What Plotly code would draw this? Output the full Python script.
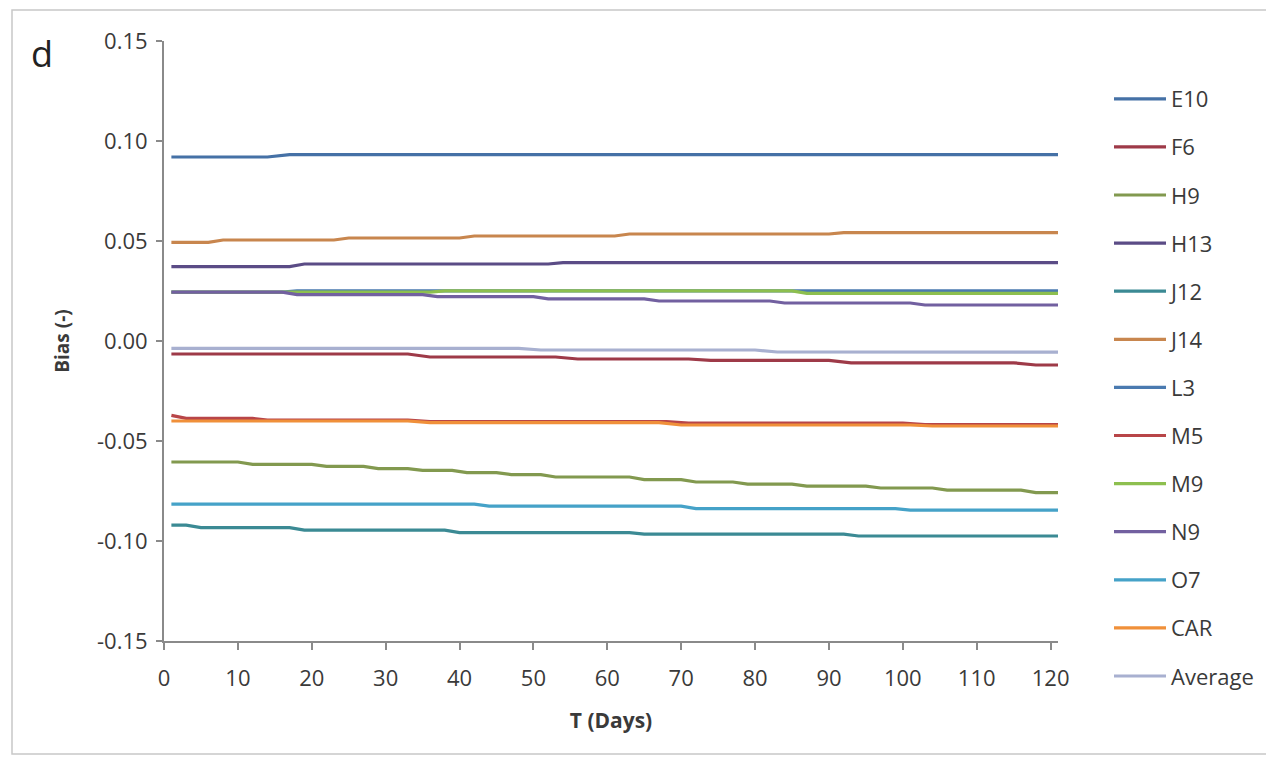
import plotly.graph_objects as go

# ---- data (vertices) ----
series_names = ["E10", "F6", "H9", "H13", "J12", "J14", "L3", "M5", "M9", "N9", "O7", "CAR", "Average"]

E10_days = [1, 14, 17, 121]
E10_vals = [0.0920, 0.0920, 0.0932, 0.0932]

F6_days = [1, 33, 36, 53, 56, 71, 74, 90, 93, 115, 118, 121]
F6_vals = [-0.0065, -0.0065, -0.0080, -0.0080, -0.0090, -0.0090, -0.0097, -0.0097, -0.0109, -0.0109, -0.0120, -0.0120]

H9_days = [1, 10, 12, 20, 22, 27, 29, 33, 35, 39, 41, 45, 47, 51, 53, 63, 65, 70, 72, 77, 79, 85, 87, 95, 97, 104, 106, 116, 118, 121]
H9_vals = [-0.0605, -0.0605, -0.0617, -0.0617, -0.0627, -0.0627, -0.0638, -0.0638, -0.0647, -0.0647,
           -0.0658, -0.0658, -0.0668, -0.0668, -0.0680, -0.0680, -0.0693, -0.0693, -0.0705, -0.0705,
           -0.0716, -0.0716, -0.0726, -0.0726, -0.0735, -0.0735, -0.0746, -0.0746, -0.0758, -0.0758]

H13_days = [1, 17, 19, 52, 54, 121]
H13_vals = [0.0372, 0.0372, 0.0385, 0.0385, 0.0392, 0.0392]

J12_days = [1, 3, 5, 17, 19, 38, 40, 63, 65, 92, 94, 121]
J12_vals = [-0.0921, -0.0921, -0.0933, -0.0933, -0.0946, -0.0946, -0.0958, -0.0958, -0.0966, -0.0966, -0.0975, -0.0975]

J14_days = [1, 6, 8, 23, 25, 40, 42, 61, 63, 90, 92, 121]
J14_vals = [0.0493, 0.0493, 0.0505, 0.0505, 0.0515, 0.0515, 0.0525, 0.0525, 0.0535, 0.0535, 0.0542, 0.0542]

L3_days = [1, 16, 18, 121]
L3_vals = [0.0244, 0.0244, 0.0251, 0.0251]

M5_days = [1, 3, 12, 14, 33, 36, 68, 71, 100, 103, 121]
M5_vals = [-0.0372, -0.0387, -0.0387, -0.0395, -0.0395, -0.0403, -0.0403, -0.0410, -0.0410, -0.0418, -0.0418]

M9_days = [1, 36, 38, 85, 87, 121]
M9_vals = [0.0244, 0.0244, 0.0251, 0.0251, 0.0238, 0.0238]

N9_days = [1, 16, 18, 35, 37, 50, 52, 65, 67, 82, 84, 101, 103, 121]
N9_vals = [0.0244, 0.0244, 0.0232, 0.0232, 0.0222, 0.0222, 0.0211, 0.0211, 0.0200, 0.0200, 0.0190, 0.0190, 0.0180, 0.0180]

O7_days = [1, 42, 44, 70, 72, 99, 101, 121]
O7_vals = [-0.0816, -0.0816, -0.0826, -0.0826, -0.0838, -0.0838, -0.0846, -0.0846]

CAR_days = [1, 33, 36, 67, 70, 101, 104, 121]
CAR_vals = [-0.0400, -0.0400, -0.0408, -0.0408, -0.0420, -0.0420, -0.0425, -0.0425]

Average_days = [1, 48, 51, 80, 83, 121]
Average_vals = [-0.0037, -0.0037, -0.0045, -0.0045, -0.0055, -0.0056]

x_tick_vals = [0, 10, 20, 30, 40, 50, 60, 70, 80, 90, 100, 110, 120]
y_tick_vals = [-0.15, -0.10, -0.05, 0.00, 0.05, 0.10, 0.15]
y_tick_text = ["-0.15", "-0.10", "-0.05", "0.00", "0.05", "0.10", "0.15"]

# ---- styles ----
colors = {
    "E10": "#4571A6", "F6": "#9E3A48", "H9": "#82994F", "H13": "#5B4C86",
    "J12": "#3B8A94", "J14": "#C8864E", "L3": "#4A7AB0", "M5": "#B84548",
    "M9": "#8DBF4F", "N9": "#7260A0", "O7": "#45A2C8", "CAR": "#F0903A",
    "Average": "#A8B0D0",
}
data = {
    "E10": (E10_days, E10_vals), "F6": (F6_days, F6_vals), "H9": (H9_days, H9_vals),
    "H13": (H13_days, H13_vals), "J12": (J12_days, J12_vals), "J14": (J14_days, J14_vals),
    "L3": (L3_days, L3_vals), "M5": (M5_days, M5_vals), "M9": (M9_days, M9_vals),
    "N9": (N9_days, N9_vals), "O7": (O7_days, O7_vals), "CAR": (CAR_days, CAR_vals),
    "Average": (Average_days, Average_vals),
}

FONT = "Open Sans, Lato, sans-serif"
TXT = "#3a3a3a"

fig = go.Figure()
for name in series_names:
    xs, ys = data[name]
    fig.add_trace(go.Scatter(
        x=xs, y=ys, mode="lines", name=name, legendgroup=name,
        line=dict(color=colors[name], width=3.2),
    ))

OFF = 8  # page body margin
W, H = 1274 - OFF, 759 - OFF
# plot area in page pixels: x 164..1058, y 41..641
L = 164 - OFF
T = 41 - OFF
R = W - (1058 - OFF)
B = H - (641 - OFF)
pw, ph = W - L - R, H - T - B

def px_x(px):
    return (px - OFF - L) / pw

def px_y(py):
    return (T + ph - (py - OFF)) / ph

fig.update_layout(
    width=W, height=H,
    margin=dict(l=L, r=R, t=T, b=B),
    paper_bgcolor="white", plot_bgcolor="white",
    font=dict(family=FONT, color=TXT, size=22),
    showlegend=True,
    legend=dict(
        x=px_x(1109), y=px_y(78), xanchor="left", yanchor="top",
        font=dict(size=22, family=FONT, color=TXT),
        tracegroupgap=16.5, itemwidth=52, bgcolor="rgba(0,0,0,0)",
        maxheight=720,
    ),
    xaxis=dict(
        range=[0, 121], tickvals=x_tick_vals, ticks="outside", ticklen=7,
        tickwidth=1.5, tickcolor="#8a8a8a", showline=True, linecolor="#8a8a8a",
        linewidth=2, showgrid=False, zeroline=False, ticklabelstandoff=10,
        tickfont=dict(size=22, family=FONT, color=TXT),
        title=dict(text="<b>T (Days)</b>", font=dict(size=21, family=FONT, color=TXT), standoff=22),
    ),
    yaxis=dict(
        range=[-0.15, 0.15], tickvals=y_tick_vals, ticktext=y_tick_text,
        ticks="outside", ticklen=6, tickwidth=1.5, tickcolor="#8a8a8a",
        showline=True, linecolor="#8a8a8a", linewidth=2, showgrid=False,
        zeroline=False, ticklabelstandoff=4, tickfont=dict(size=22, family=FONT, color=TXT),
        title=dict(text="<b>Bias (-)</b>", font=dict(size=19, family=FONT, color=TXT), standoff=22),
    ),
    annotations=[
        dict(text="d", x=px_x(42), y=px_y(53), xref="paper", yref="paper",
             showarrow=False, font=dict(size=36, family=FONT, color="#222222"),
             xanchor="center", yanchor="middle"),
    ],
    shapes=[
        dict(type="rect", xref="paper", yref="paper",
             x0=px_x(12), x1=px_x(1268), y0=px_y(754), y1=px_y(10),
             line=dict(color="#c8c8c8", width=1.5), layer="below"),
    ],
)

fig.write_html("out.html")
